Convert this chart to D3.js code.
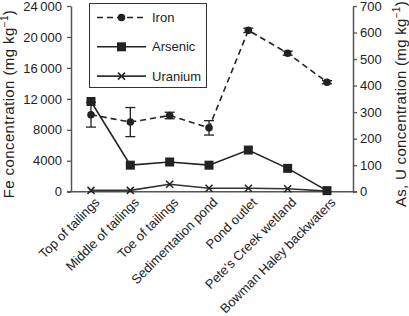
<!DOCTYPE html>
<html>
<head>
<meta charset="utf-8">
<script src="https://cdn.jsdelivr.net/npm/d3@7"></script>
<style>
  body { margin: 0; background: #fff; }
  text { font-family: "Liberation Sans", Arial, sans-serif; fill: #222; }
</style>
</head>
<body>
<div id="chart"></div>
<script>
var sites = ["Top of tailings", "Middle of tailings", "Toe of tailings", "Sedimentation pond",
    "Pond outlet", "Pete's Creek wetland", "Bowman Haley backwaters"];
var iron = [9950, 9000, 9850, 8250, 20850, 17900, 14150];
var ironErr = [1600, 1880, 420, 930, 280, 260, 200];
var arsenic = [340, 100, 112, 100, 157, 88, 4];
var uranium = [5, 5, 28, 13, 13, 11, 2];
var feTicks = [0, 4000, 8000, 12000, 16000, 20000, 24000];
var asTicks = [0, 100, 200, 300, 400, 500, 600, 700];

var width = 409, height = 316;
var margin = { top: 6, right: 56, bottom: 124, left: 71 };

var svg = d3.select("#chart")
    .append("svg")
    .attr("width", width)
    .attr("height", height);

var x = d3.scalePoint()
    .domain(sites)
    .range([91, 327]);

var yFe = d3.scaleLinear()
    .domain([0, 24000])
    .range([height - margin.bottom - 0.3, margin.top]);

var yAs = d3.scaleLinear()
    .domain([0, 700])
    .range([height - margin.bottom - 0.3, margin.top]);

var axisColor = "#555";
var fmt = function (d) {
    return d >= 10000 ? d3.format(",")(d).replace(",", "\u2009") : String(d);
};

// left axis
var gl = svg.append("g")
    .attr("transform", "translate(" + margin.left + ",0)")
    .call(d3.axisLeft(yFe).tickValues(feTicks).tickFormat(fmt).tickSize(4).tickSizeOuter(0));
gl.selectAll("text").style("font-size", "13px").attr("x", -9);

// right axis
var xr = width - margin.right;
var gr = svg.append("g")
    .attr("transform", "translate(" + xr + ",0)")
    .call(d3.axisRight(yAs).tickValues(asTicks).tickSize(4).tickSizeOuter(0));
gr.selectAll("text").style("font-size", "13px").attr("x", 7);

[gl, gr].forEach(function (g) {
    g.selectAll("line").style("stroke", axisColor).style("stroke-width", 1.3);
    g.select(".domain").style("stroke", axisColor).style("stroke-width", 1.5);
    g.selectAll("text").style("fill", "#222");
});

// bottom line
svg.append("line")
    .attr("x1", margin.left - 4).attr("x2", xr + 4)
    .attr("y1", yFe(0)).attr("y2", yFe(0))
    .style("stroke", axisColor).style("stroke-width", 1.5);

// category labels
svg.selectAll(".xlab")
    .data(sites)
    .enter()
    .append("text")
    .attr("class", "xlab")
    .attr("transform", function (d) { return "translate(" + (x(d) + 3) + "," + (yFe(0) + 5) + ") rotate(-45)"; })
    .attr("text-anchor", "end")
    .attr("dy", "0.7em")
    .style("font-size", "13px")
    .text(function (d) { return d; });

// axis titles
svg.append("text")
    .attr("transform", "translate(14,104) rotate(-90)")
    .attr("text-anchor", "middle")
    .style("font-size", "15px")
    .style("letter-spacing", "0.4px")
    .html("Fe concentration (mg kg<tspan dy='-6' font-size='10px'>\u22121</tspan><tspan dy='6'>)</tspan>");

svg.append("text")
    .attr("transform", "translate(406,104) rotate(-90)")
    .attr("text-anchor", "middle")
    .style("font-size", "15px")
    .style("letter-spacing", "0.3px")
    .html("As, U concentration (mg kg<tspan dy='-6' font-size='10px'>\u22121</tspan><tspan dy='6'>)</tspan>");

var ink = "#222";

// uranium
var lineU = d3.line()
    .x(function (d, i) { return x(sites[i]); })
    .y(function (d) { return yAs(d); });
svg.append("path").datum(uranium)
    .attr("d", lineU)
    .style("fill", "none").style("stroke", "#333").style("stroke-width", 1.6);

function xMark(g, cx, cy, s) {
    g.append("path")
        .attr("d", "M" + (cx - s) + "," + (cy - s) + "L" + (cx + s) + "," + (cy + s) +
            "M" + (cx - s) + "," + (cy + s) + "L" + (cx + s) + "," + (cy - s))
        .style("stroke", ink).style("stroke-width", 1.5);
}
uranium.forEach(function (d, i) { xMark(svg, x(sites[i]), yAs(d), 3.5); });

// arsenic
svg.append("path").datum(arsenic)
    .attr("d", lineU)
    .style("fill", "none").style("stroke", ink).style("stroke-width", 1.6);
svg.selectAll(".sq")
    .data(arsenic)
    .enter()
    .append("rect")
    .attr("class", "sq")
    .attr("x", function (d, i) { return x(sites[i]) - 4.5; })
    .attr("y", function (d) { return yAs(d) - 4.5; })
    .attr("width", 9).attr("height", 9)
    .style("fill", ink);

// iron
var lineFe = d3.line()
    .x(function (d, i) { return x(sites[i]); })
    .y(function (d) { return yFe(d); });
svg.append("path").datum(iron)
    .attr("d", lineFe)
    .style("fill", "none").style("stroke", ink).style("stroke-width", 1.6)
    .style("stroke-dasharray", "6,4");

iron.forEach(function (d, i) {
    var cx = x(sites[i]);
    var hi = yFe(d + ironErr[i]), lo = yFe(d - ironErr[i]);
    var eb = svg.append("g").style("stroke", ink).style("stroke-width", 1.3);
    eb.append("line").attr("x1", cx).attr("x2", cx).attr("y1", hi).attr("y2", lo);
    eb.append("line").attr("x1", cx - 5).attr("x2", cx + 5).attr("y1", hi).attr("y2", hi);
    eb.append("line").attr("x1", cx - 5).attr("x2", cx + 5).attr("y1", lo).attr("y2", lo);
});
svg.selectAll(".dot")
    .data(iron)
    .enter()
    .append("circle")
    .attr("class", "dot")
    .attr("cx", function (d, i) { return x(sites[i]); })
    .attr("cy", function (d) { return yFe(d); })
    .attr("r", 3.8)
    .style("fill", ink);

// legend
var lg = svg.append("g");
lg.append("rect")
    .attr("x", 89.5).attr("y", 3.5).attr("width", 117).attr("height", 84)
    .style("fill", "#fff").style("stroke", "#333").style("stroke-width", 1);
var legendItems = ["Iron", "Arsenic", "Uranium"];
legendItems.forEach(function (name, i) {
    var ly = 17.5 + i * 29.3;
    var ln = lg.append("line")
        .attr("x1", 97).attr("x2", 146).attr("y1", ly).attr("y2", ly)
        .style("stroke", i == 2 ? "#333" : ink).style("stroke-width", 1.6);
    if (i == 0) {
        ln.style("stroke-dasharray", "6,4");
        lg.append("circle").attr("cx", 121.5).attr("cy", ly).attr("r", 3.8).style("fill", ink);
    } else if (i == 1) {
        lg.append("rect").attr("x", 117).attr("y", ly - 4.5).attr("width", 9).attr("height", 9).style("fill", ink);
    } else {
        xMark(lg, 121.5, ly, 3.5);
    }
    lg.append("text")
        .attr("x", 152).attr("y", ly).attr("dy", "0.35em")
        .style("font-size", "13px")
        .text(name);
});
</script>
</body>
</html>
